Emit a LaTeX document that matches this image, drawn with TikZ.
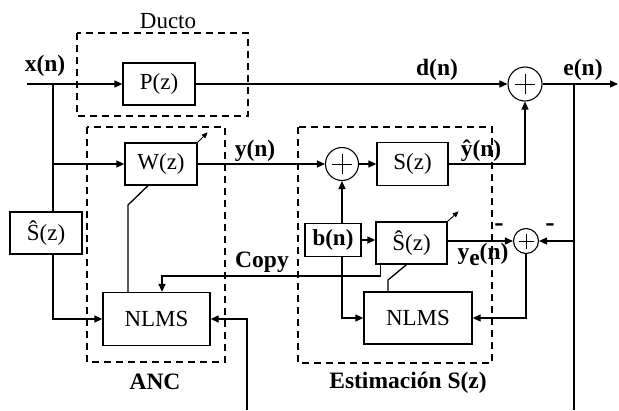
\documentclass[tikz,border=0pt]{standalone}
\usepackage{fontspec}
\setmainfont{Liberation Serif}
\usetikzlibrary{arrows.meta,calc}
\begin{document}
\begin{tikzpicture}[x=1pt,y=-1pt,
  every node/.style={font=\fontsize{23}{25}\selectfont},
  blk/.style={draw,line width=1.3pt,inner sep=0pt},
  sumc/.style={draw,circle,line width=1.1pt,inner sep=0pt,minimum size=#1,
    path picture={\draw[line width=0.9pt]
      ($(path picture bounding box.west)!0.2!(path picture bounding box.east)$) --
      ($(path picture bounding box.west)!0.8!(path picture bounding box.east)$)
      ($(path picture bounding box.north)!0.2!(path picture bounding box.south)$) --
      ($(path picture bounding box.north)!0.8!(path picture bounding box.south)$);}},
  ln/.style={line width=1.3pt},
  arr/.style={ln,-{Triangle[length=8pt,width=7pt]}},
  adapt/.style={line width=0.9pt,-{Triangle[length=6pt,width=5pt]}},
  region/.style={line width=1.2pt,dash pattern=on 7pt off 5pt},
  lbl/.style={font=\fontsize{23.5}{25}\selectfont\bfseries}
]
\useasboundingbox (0,0) rectangle (619,410);
% regions
\draw[region] (77,33) rectangle (248,116);
\draw[region] (87,127) rectangle (225,362);
\draw[region] (298,127) rectangle (492,363);
% blocks
\node[blk,minimum width=72,minimum height=42] (P) at (159,84) {P(z)};
\node[blk,minimum width=72,minimum height=42] (W) at (161,164) {W(z)};
\node[blk,minimum width=72,minimum height=42] (Sh1) at (46,233) {Ŝ(z)};
\node[blk,minimum width=107,minimum height=53] (N1) at (156.5,319) {NLMS};
\node[sumc=33] (sum1) at (342,164) {};
\node[blk,minimum width=71,minimum height=43] (S) at (412.5,164) {S(z)};
\node[sumc=34] (sum2) at (525,84) {};
\node[blk,minimum width=56,minimum height=33,font=\fontsize{23}{25}\selectfont\bfseries] (b) at (333,240) {b(n)};
\node[blk,minimum width=71,minimum height=42] (Sh2) at (411.5,243) {Ŝ(z)};
\node[blk,minimum width=108,minimum height=52] (N2) at (418,318) {NLMS};
\node[sumc=25] (sum3) at (526,241) {};
% coordinates
\coordinate (xin) at (27,84);
\coordinate (xb) at (53,84);
\coordinate (eout) at (618,84);
\coordinate (eb) at (574,84);
\coordinate (ebot) at (574,410);
\coordinate (refin) at (247,410);
\coordinate (wd) at (128,205);
\coordinate (sd) at (388,280);
\coordinate (cp) at (162,276);
% connectors
\draw[arr] (xin) -- (P.west);
\draw[arr] (P.east) -- (sum2.west);
\draw[arr] (sum2.east) -- (eout);
\draw[ln] (eb) -- (ebot);
\draw[arr] (xb) |- (W.west);
\draw[ln] (xb) -- (xb |- Sh1.north);
\draw[arr] (xb |- Sh1.south) |- (N1.west);
\draw[arr] (W.east) -- (sum1.west);
\draw[arr] (sum1.east) -- (S.west);
\draw[arr] (S.east) -| (sum2.south);
\draw[arr] (sum1 |- b.north) -- (sum1.south);
\draw[arr] (sum1 |- b.south) |- (N2.west);
\draw[arr] (b.east) -- (Sh2.west |- b.east);
\draw[arr] (Sh2.east |- sum3) -- (sum3.west);
\draw[arr] (eb |- sum3) -- (sum3.east);
\draw[arr] (sum3.south) |- (N2.east);
\draw[arr] (refin) |- (N1.east);
\draw[adapt] (W.north east) -- ++(10,-10);
\draw[adapt] (Sh2.north east) -- ++(11,-10);
\draw[ln] ($(W.south)+(-13,0)$) -- (wd) -- (wd |- N1.north);
\draw[ln] ($(Sh2.south)+(-5,0)$) -- (sd) -- (sd |- N2.north);
\draw[arr] ($(Sh2.south west)+(5,0)$) |- (cp) -- (cp |- N1.north);
% labels
\node (ducto) at (168,21) {Ducto};
\node[lbl] (lx) at (45,66) {x(n)};
\node[lbl] (ld) at (437,70) {d(n)};
\node[lbl] (le) at (583,70) {e(n)};
\node[lbl] (ly) at (255,151) {y(n)};
\node[lbl] (lyh) at (481,151) {ŷ(n)};
\node[lbl] (lye) at (483,254) {y\raisebox{-6pt}{e}(n)};
\node[lbl] (lcopy) at (262,262) {Copy};
\node[lbl] (lanc) at (155,382) {ANC};
\node[lbl] (lest) at (408,383) {Estimación S(z)};
\node[font=\fontsize{28}{30}\selectfont\bfseries] (m1) at (499,228) {-};
\node[font=\fontsize{28}{30}\selectfont\bfseries] (m2) at (550,228) {-};
\end{tikzpicture}
\end{document}
